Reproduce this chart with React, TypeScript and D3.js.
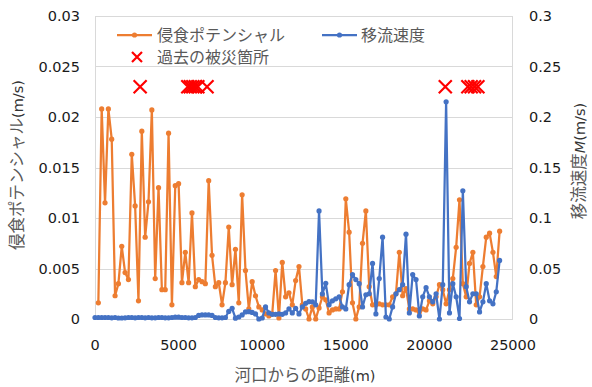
import React from "react";
import * as d3 from "d3";

// Survey stations along the river (m from the mouth)
const stations = [
  0, 200, 400, 600, 800, 1000, 1200, 1400, 1600, 1800,
  2000, 2200, 2400, 2600, 2800, 3000, 3200, 3400, 3600, 3800,
  4000, 4200, 4400, 4600, 4800, 5000, 5200, 5400, 5600, 5800,
  6000, 6200, 6400, 6600, 6800, 7000, 7200, 7400, 7600, 7800,
  8000, 8200, 8400, 8600, 8800, 9000, 9200, 9400, 9600, 9800,
  10000, 10200, 10400, 10600, 10800, 11000, 11200, 11400, 11600, 11800,
  12000, 12200, 12400, 12600, 12800, 13000, 13200, 13400, 13600, 13800,
  14000, 14200, 14400, 14600, 14800, 15000, 15200, 15400, 15600, 15800,
  16000, 16200, 16400, 16600, 16800, 17000, 17200, 17400, 17600, 17800,
  18000, 18200, 18400, 18600, 18800, 19000, 19200, 19400, 19600, 19800,
  20000, 20200, 20400, 20600, 20800, 21000, 21200, 21400, 21600, 21800,
  22000, 22200, 22400, 22600, 22800, 23000, 23200, 23400, 23600, 23800,
  24000, 24200,
];

// 侵食ポテンシャル (m/s), defined from the second station onward
const erosionPotential = [
  0.0016, 0.0208, 0.0115, 0.0208, 0.0178, 0.0023, 0.0035, 0.0072, 0.0046, 0.0039,
  0.0163, 0.0112, 0.0018, 0.0186, 0.0081, 0.0116, 0.0207, 0.0040, 0.0130, 0.0029,
  0.0029, 0.0184, 0.0014, 0.0132, 0.0134, 0.0036, 0.0066, 0.0036, 0.0105, 0.0032,
  0.0039, 0.0037, 0.0035, 0.0137, 0.0063, 0.0032, 0.0036, 0.0014, 0.0036, 0.0091,
  0.0034, 0.0069, 0.0016, 0.0123, 0.0048, 0.0010, 0.0037, 0.0023, 0.0012, 0.0009,
  0.0005, 0.0003, 0.0005, 0.0048, 0.0001, 0.0056, 0.0022, 0.0026, 0.0014, 0.0038,
  0.0052, 0.0014, 0.0010, 0.0000, 0.0012, 0.0000, 0.0011, 0.0022, 0.0019, 0.0006,
  0.0009, 0.0010, 0.0010, 0.0027, 0.0119, 0.0086, 0.0016, 0.0000, 0.0012, 0.0075,
  0.0107, 0.0032, 0.0014, 0.0014, 0.0015, 0.0014, 0.0014, 0.0014, 0.0022, 0.0025,
  0.0066, 0.0023, 0.0030, 0.0010, 0.0010, 0.0009, 0.0007, 0.0010, 0.0009, 0.0018,
  0.0015, 0.0022, 0.0034, 0.0029, 0.0015, 0.0029, 0.0040, 0.0071, 0.0118, 0.0035,
  0.0022, 0.0055, 0.0066, 0.0014, 0.0022, 0.0052, 0.0081, 0.0085, 0.0066, 0.0042,
  0.0087,
];

// 移流速度 M (m/s), one value per station
const advectionSpeed = [
  0.0015, 0.0015, 0.0015, 0.0015, 0.0015, 0.0012, 0.0015, 0.0010, 0.0010, 0.0012,
  0.0015, 0.0015, 0.0012, 0.0015, 0.0015, 0.0012, 0.0015, 0.0012, 0.0012, 0.0015,
  0.0015, 0.0012, 0.0012, 0.0015, 0.0018, 0.0018, 0.0015, 0.0015, 0.0012, 0.0012,
  0.0015, 0.0035, 0.0040, 0.0040, 0.0040, 0.0035, 0.0015, 0.0012, 0.0012, 0.0015,
  0.0075, 0.0106, 0.0008, 0.0020, 0.0040, 0.0070, 0.0073, 0.0065, 0.0050, 0.0000,
  0.0010, 0.0120, 0.0060, 0.0046, 0.0046, 0.0050, 0.0046, 0.0060, 0.0100, 0.0060,
  0.0106, 0.0050, 0.0120, 0.0155, 0.0172, 0.0170, 0.0140, 0.1070, 0.0248, 0.0353,
  0.0140, 0.0180, 0.0200, 0.0220, 0.0120, 0.0100, 0.0340, 0.0440, 0.0390, 0.0350,
  0.0120, 0.0240, 0.0250, 0.0550, 0.0050, 0.0400, 0.0810, 0.0020, 0.0000, 0.0120,
  0.0250, 0.0290, 0.0340, 0.0840, 0.0060, 0.0440, 0.0390, 0.0030, 0.0220, 0.0310,
  0.0220, 0.0170, 0.0250, 0.0000, 0.0340, 0.2150, 0.0060, 0.0350, 0.0220, 0.0005,
  0.1270, 0.0320, 0.0170, 0.0250, 0.0250, 0.0070, 0.0170, 0.0350, 0.0180, 0.0150,
  0.0270, 0.0580,
];

// 過去の被災箇所 (m from the mouth), marked at a fixed level on the left axis
const disasterSites = [2700, 5550, 5700, 5850, 6000, 6150, 6700, 20950, 22300, 22500, 22700, 22900];
const disasterMarkLevel = 0.023;

const xTicks = [0, 5000, 10000, 15000, 20000, 25000];
const leftTicks = [0, 0.005, 0.01, 0.015, 0.02, 0.025, 0.03];
const rightTicks = [0, 0.05, 0.1, 0.15, 0.2, 0.25, 0.3];

const W = 592;
const H = 387;
const plot = { left: 95, right: 513, top: 16, bottom: 319 };

const ORANGE = "#ED7D31";
const BLUE = "#4472C4";
const RED = "#FF0000";
const GRID = "#D9D9D9";
const TEXT = "#595959";
const NUM_FONT = "'DejaVu Sans', sans-serif";
const JP_FONT = "'Noto Sans CJK JP', sans-serif";

const x = d3.scaleLinear().domain([0, 25000]).range([plot.left, plot.right]);
const yLeft = d3.scaleLinear().domain([0, 0.03]).range([plot.bottom, plot.top]);
const yRight = d3.scaleLinear().domain([0, 0.3]).range([plot.bottom, plot.top]);

const fmt = (v: number) => String(+v.toFixed(4));

type Pt = [number, number];

function Cross({ cx, cy, r, color }: { cx: number; cy: number; r: number; color: string }) {
  return (
    <path
      d={`M${cx - r},${cy - r}L${cx + r},${cy + r}M${cx - r},${cy + r}L${cx + r},${cy - r}`}
      stroke={color}
      strokeWidth={2.2}
      fill="none"
    />
  );
}

export default function App() {
  const erosionPts: Pt[] = erosionPotential.map((v, i) => [x(stations[i + 1]), yLeft(v)]);
  const advectionPts: Pt[] = advectionSpeed.map((v, i) => [x(stations[i]), yRight(v)]);
  const line = d3.line<Pt>().x((d) => d[0]).y((d) => d[1]);

  return (
    <svg
      width={W}
      height={H}
      viewBox={`0 0 ${W} ${H}`}
      style={{ position: "absolute", left: 0, top: 0, background: "#fff" }}
    >
      <rect x={0} y={0} width={W} height={H} fill="#fff" />

      {/* gridlines */}
      {leftTicks.map((t) => (
        <line
          key={`g${t}`}
          x1={plot.left}
          x2={plot.right}
          y1={Math.round(yLeft(t)) + 0.5}
          y2={Math.round(yLeft(t)) + 0.5}
          stroke={GRID}
          strokeWidth={1}
        />
      ))}
      <rect
        x={plot.left + 0.5}
        y={plot.top + 0.5}
        width={plot.right - plot.left - 1}
        height={plot.bottom - plot.top}
        fill="none"
        stroke={GRID}
        strokeWidth={1}
      />

      {/* left axis labels */}
      {leftTicks.map((t) => (
        <text
          key={`l${t}`}
          x={80}
          y={yLeft(t)}
          dy="0.36em"
          textAnchor="end"
          fontFamily={NUM_FONT}
          fontSize={14.5}
          fill="#1a1a1a"
        >
          {fmt(t)}
        </text>
      ))}
      {/* right axis labels */}
      {rightTicks.map((t) => (
        <text
          key={`r${t}`}
          x={529}
          y={yRight(t)}
          dy="0.36em"
          textAnchor="start"
          fontFamily={NUM_FONT}
          fontSize={14.5}
          fill="#1a1a1a"
        >
          {fmt(t)}
        </text>
      ))}
      {/* x axis labels */}
      {xTicks.map((t) => (
        <text
          key={`x${t}`}
          x={x(t)}
          y={349.5}
          textAnchor="middle"
          fontFamily={NUM_FONT}
          fontSize={14.5}
          fill="#1a1a1a"
        >
          {t}
        </text>
      ))}

      {/* axis titles */}
      <text
        x={305}
        y={381}
        textAnchor="middle"
        fontFamily={JP_FONT}
        fontSize={16.5}
        fill={TEXT}
      >
        河口からの距離
        <tspan fontFamily={NUM_FONT} fontSize={14.5} fill="#333">(m)</tspan>
      </text>
      <text
        transform="translate(23,165) rotate(-90)"
        textAnchor="middle"
        fontFamily={JP_FONT}
        fontSize={16.5}
        fill={TEXT}
      >
        侵食ポテンシャル
        <tspan fontFamily={NUM_FONT} fontSize={14.5} fill="#333">(m/s)</tspan>
      </text>
      <text
        transform="translate(585,161) rotate(-90)"
        textAnchor="middle"
        fontFamily={JP_FONT}
        fontSize={16.5}
        fill={TEXT}
      >
        移流速度
        <tspan fontFamily={NUM_FONT} fontSize={14.5} fontStyle="italic" fill="#333">M</tspan>
        <tspan fontFamily={NUM_FONT} fontSize={14.5} fill="#333">(m/s)</tspan>
      </text>

      {/* 侵食ポテンシャル */}
      <path d={line(erosionPts) ?? ""} fill="none" stroke={ORANGE} strokeWidth={2.25} strokeLinejoin="round" />
      {erosionPts.map((p, i) => (
        <circle key={`o${i}`} cx={p[0]} cy={p[1]} r={2.6} fill={ORANGE} />
      ))}

      {/* 移流速度 */}
      <path d={line(advectionPts) ?? ""} fill="none" stroke={BLUE} strokeWidth={2.25} strokeLinejoin="round" />
      {advectionPts.map((p, i) => (
        <circle key={`b${i}`} cx={p[0]} cy={p[1]} r={2.6} fill={BLUE} />
      ))}

      {/* 過去の被災箇所 */}
      {disasterSites.map((d, i) => (
        <Cross key={`c${i}`} cx={x(d)} cy={yLeft(disasterMarkLevel)} r={6.5} color={RED} />
      ))}

      {/* legend */}
      <g>
        <line x1={117} x2={152} y1={35} y2={35} stroke={ORANGE} strokeWidth={2.25} />
        <circle cx={134.5} cy={35} r={2.6} fill={ORANGE} />
        <text x={157} y={35} dy="0.36em" fontFamily={JP_FONT} fontSize={16} fill={TEXT}>
          侵食ポテンシャル
        </text>
        <line x1={322} x2={357} y1={35} y2={35} stroke={BLUE} strokeWidth={2.25} />
        <circle cx={339.5} cy={35} r={2.6} fill={BLUE} />
        <text x={361} y={35} dy="0.36em" fontFamily={JP_FONT} fontSize={16} fill={TEXT}>
          移流速度
        </text>
        <Cross cx={137} cy={57} r={5} color={RED} />
        <text x={157} y={57} dy="0.36em" fontFamily={JP_FONT} fontSize={16} fill={TEXT}>
          過去の被災箇所
        </text>
      </g>
    </svg>
  );
}
